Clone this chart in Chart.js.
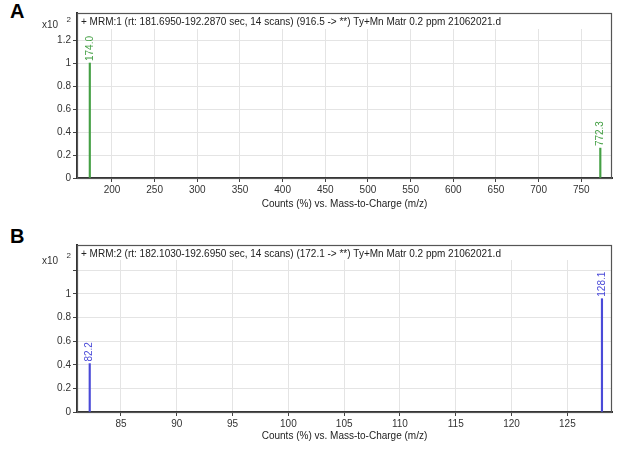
<!DOCTYPE html>
<html><head><meta charset="utf-8">
<script src="https://cdn.jsdelivr.net/npm/chart.js@4"></script>
<style>
html,body{margin:0;padding:0;background:#fff;width:624px;height:466px;overflow:hidden;font-family:"Liberation Sans",Arial,sans-serif}
.wrap{position:absolute;left:0;width:624px}
.panel{position:absolute;left:10px;font:bold 20px "Liberation Sans",Arial,sans-serif;color:#000;line-height:20px}
</style></head><body>
<div class="panel" style="top:1px">A</div>
<div class="panel" style="top:226px">B</div>
<div class="wrap" style="top:0;height:228px"><canvas id="cA"></canvas></div>
<div class="wrap" style="top:228px;height:238px"><canvas id="cB"></canvas></div>
<script>
// ---- Data ----
const titleA = "+ MRM:1 (rt: 181.6950-192.2870 sec, 14 scans) (916.5 -> **) Ty+Mn Matr 0.2 ppm 21062021.d";
const mzA = [174.0, 772.3];
const countsA = [1.0, 0.26];
const labelsA = ["174.0", "772.3"];
const xTicksA = [200,250,300,350,400,450,500,550,600,650,700,750];

const titleB = "+ MRM:2 (rt: 182.1030-192.6950 sec, 14 scans) (172.1 -> **) Ty+Mn Matr 0.2 ppm 21062021.d";
const mzB = [82.2, 128.1];
const countsB = [0.41, 0.96];
const labelsB = ["82.2", "128.1"];
const xTicksB = [85,90,95,100,105,110,115,120,125];

const yTicks = [0,0.2,0.4,0.6,0.8,1,1.2];
const xTitle = "Counts (%) vs. Mass-to-Charge (m/z)";

const FONT = '"Liberation Sans", Arial, sans-serif';

function makeChart(id, cfg){
  const deco = {
    id:'deco',
    beforeDatasetsDraw(chart){
      const {ctx, chartArea:a} = chart;
      ctx.save();
      ctx.fillStyle='#fff';
      ctx.fillRect(a.left+1, a.top+1, a.right-a.left-2, cfg.strip);
      ctx.restore();
    },
    afterDatasetsDraw(chart){
      const {ctx, chartArea:a, scales} = chart;
      ctx.save();
      // frame
      ctx.strokeStyle='#555'; ctx.lineWidth=1.2;
      ctx.strokeRect(a.left+0.5, a.top+0.5, a.right-a.left-1, a.bottom-a.top);
      // title
      ctx.fillStyle='#222'; ctx.font='10px '+FONT; ctx.textBaseline='middle'; ctx.textAlign='left';
      ctx.fillText(cfg.title, a.left+4, a.top+cfg.strip/2+2);
      // x10^2
      ctx.font='10px '+FONT; ctx.fillStyle='#333'; ctx.textAlign='right';
      ctx.fillText('x10', a.left-19, a.top+cfg.x10y);
      ctx.font='8px '+FONT;
      ctx.fillText('2', a.left-6, a.top+cfg.x10y-5);
      // peak labels
      ctx.fillStyle=cfg.color; ctx.font='10px '+FONT;
      cfg.mz.forEach((m,i)=>{
        const x=scales.x.getPixelForValue(m), y=scales.y.getPixelForValue(cfg.counts[i]);
        ctx.save(); ctx.translate(x, y-2); ctx.rotate(-Math.PI/2);
        ctx.textAlign='left'; ctx.textBaseline='middle';
        ctx.fillText(cfg.labels[i], 0, 0);
        ctx.restore();
      });
      ctx.restore();
    }
  };
  return new Chart(document.getElementById(id), {
    type:'bar',
    data:{datasets:[{data:cfg.mz.map((m,i)=>({x:m,y:cfg.counts[i]})), backgroundColor:cfg.color, barThickness:1.5}]},
    options:{
      responsive:true, maintainAspectRatio:false, animation:false,
      layout:{padding:{left:32, right:12, top:cfg.top, bottom:cfg.bottom}},
      plugins:{legend:{display:false}, tooltip:{enabled:false}},
      scales:{
        x:{type:'linear', min:cfg.xmin, max:cfg.xmax, offset:false,
           afterBuildTicks:s=>{s.ticks=cfg.xTicks.map(v=>({value:v}));},
           afterFit:s=>{s.height=cfg.xh;},
           ticks:{font:{size:10,family:FONT}, color:'#333', padding:2, maxRotation:0, autoSkip:false},
           grid:{color:'#e4e4e4', tickColor:'#444', tickLength:4, offset:false},
           border:{color:'#333', width:2},
           title:{display:true, text:xTitle, font:{size:10,family:FONT}, color:'#222', padding:{top:0,bottom:2}}
        },
        y:{min:0, max:cfg.ymax,
           afterBuildTicks:s=>{s.ticks=yTicks.map(v=>({value:v}));},
           afterFit:s=>{s.width=45;},
           ticks:{font:{size:10,family:FONT}, color:'#333', padding:2,
             callback:(v)=> (cfg.hideTop && Math.abs(v-1.2)<1e-6) ? '' : String(Math.round(v*10)/10)},
           grid:{color:'#e4e4e4', tickColor:'#444', tickLength:4},
           border:{color:'#333', width:2}
        }
      }
    },
    plugins:[deco]
  });
}

makeChart('cA', {title:titleA, mz:mzA, counts:countsA, labels:labelsA, xTicks:xTicksA,
  color:'#45a045', xmin:159, xmax:786, ymax:1.435, top:13, bottom:228-178-34, xh:34, strip:15, x10y:12, hideTop:false});
makeChart('cB', {title:titleB, mz:mzB, counts:countsB, labels:labelsB, xTicks:xTicksB,
  color:'#4a4ad8', xmin:81.06, xmax:129.0, ymax:1.415, top:17, bottom:238-184-32, xh:32, strip:14, x10y:16, hideTop:true});
</script>
</body></html>
